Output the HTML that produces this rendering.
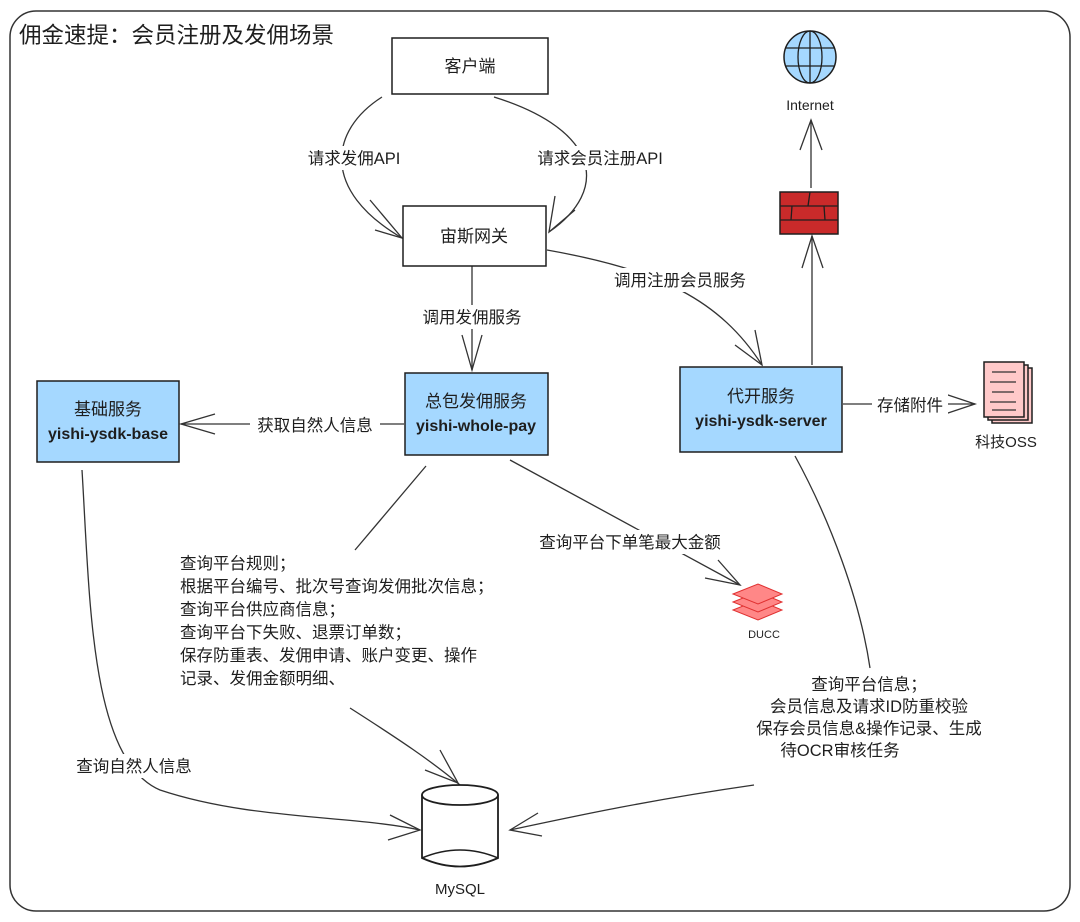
<!DOCTYPE html>
<html><head><meta charset="utf-8"><style>
html,body{margin:0;padding:0;background:#fff;}
svg{display:block;}
text{font-family:"Liberation Sans","Noto Sans CJK SC",sans-serif;fill:#1e1e1e;}
</style></head><body>
<svg width="1080" height="922" viewBox="0 0 1080 922" xmlns="http://www.w3.org/2000/svg">
<rect x="10" y="11" width="1060" height="900" rx="26" fill="#fff" stroke="#333" stroke-width="1.5"/>
<text x="19" y="43" font-size="22.5">佣金速提：会员注册及发佣场景</text>
<g fill="none" stroke="#333" stroke-width="1.3">
<path d="M382 97 C330 130 320 190 402 238"/>
<path d="M370 200 L402 238 L375 230"/>
<path d="M494 97 C600 130 610 190 549 232"/>
<path d="M555 196 L549 232 L575 210"/>
<path d="M472 266 L472 370"/><path d="M462 335 L472 370 L482 335"/>
<path d="M547 250 C660 270 720 300 762 365"/><path d="M735 345 L762 365 L755 330"/>
<path d="M404 424 L181 424"/><path d="M215 414 L181 424 L215 434"/>
<path d="M510 460 L740 585"/><path d="M705 578 L740 585 L718 560"/>
<path d="M426 466 L355 550"/>
<path d="M350 708 C400 740 430 760 460 785"/><path d="M425 770 L458 783 L440 750"/>
<path d="M82 470 C90 600 90 760 160 790 C250 820 350 815 420 830"/><path d="M390 815 L420 830 L388 840"/>
<path d="M795 456 C830 520 860 600 870 668"/>
<path d="M754 785 C650 800 580 815 510 830"/><path d="M538 813 L510 830 L542 836"/>
<path d="M812 365 L812 236"/><path d="M802 268 L812 236 L823 268"/>
<path d="M811 188 L811 120"/><path d="M800 150 L811 120 L822 150"/>
<path d="M843 404 L975 404"/><path d="M945 394 L975 404 L945 414"/>
</g>
<rect x="392" y="38" width="156" height="56" fill="#fff" stroke="#1e1e1e" stroke-width="1.5"/>
<text x="470" y="72" font-size="17" text-anchor="middle">客户端</text>
<rect x="403" y="206" width="143" height="60" fill="#fff" stroke="#1e1e1e" stroke-width="1.5"/>
<text x="474" y="242" font-size="17" text-anchor="middle">宙斯网关</text>
<rect x="405" y="373" width="143" height="82" fill="#a5d8ff" stroke="#1e1e1e" stroke-width="1.5"/>
<text x="476" y="407" font-size="17" text-anchor="middle">总包发佣服务</text>
<text x="476" y="431" font-size="16" font-weight="bold" text-anchor="middle">yishi-whole-pay</text>
<rect x="37" y="381" width="142" height="81" fill="#a5d8ff" stroke="#1e1e1e" stroke-width="1.5"/>
<text x="108" y="415" font-size="17" text-anchor="middle">基础服务</text>
<text x="108" y="439" font-size="16" font-weight="bold" text-anchor="middle">yishi-ysdk-base</text>
<rect x="680" y="367" width="162" height="85" fill="#a5d8ff" stroke="#1e1e1e" stroke-width="1.5"/>
<text x="761" y="402" font-size="17" text-anchor="middle">代开服务</text>
<text x="761" y="426" font-size="16" font-weight="bold" text-anchor="middle">yishi-ysdk-server</text>
<circle cx="810" cy="57" r="26" fill="#a5d8ff" stroke="#1e1e1e" stroke-width="1.5"/>
<g fill="none" stroke="#1e1e1e" stroke-width="1.3">
<ellipse cx="810" cy="57" rx="12" ry="26"/><path d="M810 31 L810 83 M786 48 L834 48 M785 66 L835 66"/></g>
<text x="810" y="110" font-size="14" text-anchor="middle">Internet</text>
<rect x="780" y="192" width="58" height="42" fill="#c92a2a" stroke="#1e1e1e" stroke-width="1.5"/>
<path d="M780 206 L838 206 M780 220 L838 220 M810 192 L808 206 M792 206 L791 220 M824 206 L825 220" stroke="#1e1e1e" stroke-width="1.3"/>
<rect x="992" y="368" width="40" height="55" fill="#ffc9c9" stroke="#1e1e1e" stroke-width="1.5"/>
<rect x="988" y="365" width="40" height="55" fill="#ffc9c9" stroke="#1e1e1e" stroke-width="1.5"/>
<rect x="984" y="362" width="40" height="55" fill="#ffc9c9" stroke="#1e1e1e" stroke-width="1.5"/>
<path d="M992 372 L1016 372 M990 382 L1016 382 M992 392 L1014 392 M990 402 L1016 402 M992 410 L1016 410" stroke="#333" stroke-width="1.2"/>
<text x="1006" y="447" font-size="15" text-anchor="middle">科技OSS</text>
<g fill="#ff8787" stroke="#e03131" stroke-width="1">
<path d="M733 610 L758 600 L782 610 L758 620 Z"/>
<path d="M733 602 L758 592 L782 602 L758 612 Z"/>
<path d="M733 594 L758 584 L782 594 L758 604 Z"/></g>
<text x="764" y="638" font-size="11" text-anchor="middle">DUCC</text>
<path d="M422 795 L422 858 Q460 875 498 858 L498 795" fill="#fff" stroke="#1e1e1e" stroke-width="1.8"/>
<ellipse cx="460" cy="795" rx="38" ry="10" fill="#fff" stroke="#1e1e1e" stroke-width="1.8"/>
<path d="M422 858 Q460 842 498 858" fill="none" stroke="#1e1e1e" stroke-width="1.5"/>
<text x="460" y="894" font-size="15" text-anchor="middle">MySQL</text>
<g font-size="16.5">
<rect x="296" y="146" width="116" height="24" fill="#fff"/>
<text x="354" y="164" text-anchor="middle">请求发佣API</text>
<rect x="524" y="146" width="152" height="24" fill="#fff"/>
<text x="600" y="164" text-anchor="middle">请求会员注册API</text>
<rect x="414" y="305" width="116" height="24" fill="#fff"/>
<text x="472" y="323" text-anchor="middle">调用发佣服务</text>
<rect x="606" y="268" width="148" height="24" fill="#fff"/>
<text x="680" y="286" text-anchor="middle">调用注册会员服务</text>
<rect x="250" y="413" width="130" height="24" fill="#fff"/>
<text x="315" y="431" text-anchor="middle">获取自然人信息</text>
<rect x="872" y="393" width="76" height="24" fill="#fff"/>
<text x="910" y="411" text-anchor="middle">存储附件</text>
<rect x="528" y="530" width="204" height="24" fill="#fff"/>
<text x="630" y="548" text-anchor="middle">查询平台下单笔最大金额</text>
<rect x="68" y="754" width="132" height="24" fill="#fff"/>
<text x="134" y="772" text-anchor="middle">查询自然人信息</text>
<text x="180" y="569">查询平台规则；</text>
<text x="180" y="592">根据平台编号、批次号查询发佣批次信息；</text>
<text x="180" y="615">查询平台供应商信息；</text>
<text x="180" y="638">查询平台下失败、退票订单数；</text>
<text x="180" y="661">保存防重表、发佣申请、账户变更、操作</text>
<text x="180" y="684">记录、发佣金额明细、</text>
<g text-anchor="middle">
<text x="869" y="690">查询平台信息；</text>
<text x="869" y="712">会员信息及请求ID防重校验</text>
<text x="869" y="734">保存会员信息&amp;操作记录、生成</text>
<text x="840" y="756">待OCR审核任务</text>
</g>
</g>
</svg>
</body></html>
